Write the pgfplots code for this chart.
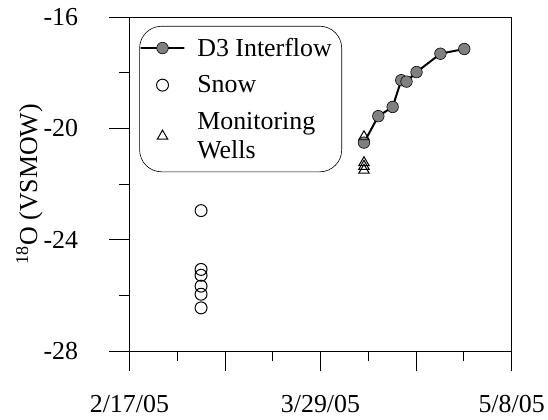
\documentclass[border=0pt]{standalone}
\usepackage{fontspec}
\setmainfont{Liberation Serif}
\usepackage{pgfplots}
\pgfplotsset{compat=1.18}
\pgfplotsset{
  legline/.style={legend image code/.code={\draw[mark repeat=2,mark phase=2,##1] plot coordinates {(0pt,0pt) (14pt,0pt) (28pt,0pt)};}},
  legmark/.style={legend image code/.code={\draw[##1] plot coordinates {(14pt,0pt)};}},
}
\begin{document}
\begin{tikzpicture}
\begin{axis}[
  name=ax,
  scale only axis,
  width=384pt, height=336pt,
  xmin=0, xmax=80, ymin=-28, ymax=-16,
  xtick={0,20,40,60,80},
  xticklabels={2/17/05,,3/29/05,,5/8/05},
  minor x tick num=1,
  ytick={-28,-24,-20,-16},
  minor y tick num=1,
  xtick pos=bottom, ytick pos=left,
  tick align=outside,
  major tick length=20pt, minor tick length=10pt,
  tick style={black, line width=0.8pt},
  axis line style={line width=0.8pt},
  /pgf/number format/assume math mode=true,
  ticklabel style={font=\fontsize{26}{30}\selectfont},
  yticklabel style={xshift=-28pt},
  xticklabel style={yshift=-21pt},
  ylabel={\textsuperscript{18}O (VSMOW)},
  ylabel style={font=\fontsize{26}{30}\selectfont, yshift=-6pt},
  legend style={at={(0.026,0.973)}, anchor=north west, rounded corners=22pt,
    draw=black, line width=0.6pt, font=\fontsize{26}{29}\selectfont,
    cells={anchor=west, align=left}, inner xsep=8pt, inner ysep=10pt, row sep=14pt,
    /tikz/every odd column/.append style={column sep=18pt}},
]
\addplot[black, line width=2pt, mark=*, mark size=5.8pt,
  mark options={fill=gray, draw=black, line width=0.6pt}, legline]
  coordinates {
  (49.1,-20.51) (52.1,-19.56) (55.1,-19.23) (56.9,-18.27)
  (58.0,-18.32) (60.1,-17.98) (65.1,-17.32) (70.1,-17.15)
  };
\addlegendentry{D3 Interflow}
\addplot[only marks, mark=o, mark size=6pt, black, line width=1pt, legmark]
  coordinates {
  (15,-22.95) (15,-25.06) (15,-25.27) (15,-25.66) (15,-25.95) (15,-26.44)
  };
\addlegendentry{Snow}
\addplot[only marks, mark=triangle, mark size=6pt, black, line width=1pt, legmark]
  coordinates {
  (49.1,-20.30) (49.1,-21.23) (49.1,-21.36) (49.1,-21.50)
  };
\addlegendentry{Monitoring\\Wells}
\end{axis}
\path ([xshift=-130pt,yshift=-68pt]ax.south west) rectangle ([xshift=34pt,yshift=17pt]ax.north east);
\end{tikzpicture}
\end{document}
